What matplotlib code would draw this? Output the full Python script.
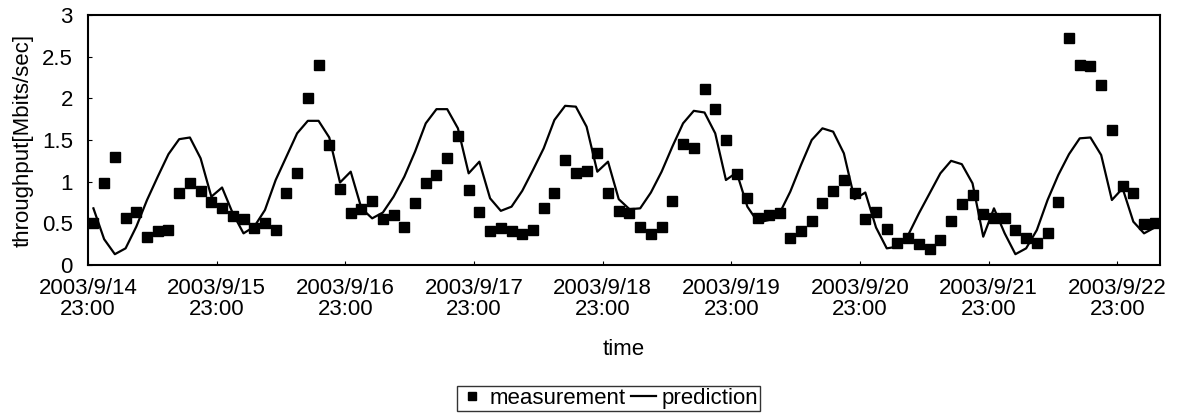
import matplotlib
matplotlib.use('Agg')
import matplotlib.pyplot as plt
import numpy as np

plt.rcParams['font.family'] = ['Liberation Sans', 'DejaVu Sans']

# throughput samples, one every 2 hours starting 2003/9/14 23:00
measurement = [
    0.50, 0.98, 1.30, 0.57, 0.64, 0.34, 0.41, 0.42, 0.86, 0.99, 0.89, 0.76,
    0.68, 0.59, 0.55, 0.45, 0.51, 0.42, 0.87, 1.10, 2.00, 2.40, 1.44, 0.91,
    0.63, 0.67, 0.77, 0.55, 0.60, 0.46, 0.74, 0.99, 1.08, 1.28, 1.55, 0.90,
    0.64, 0.41, 0.44, 0.41, 0.37, 0.42, 0.69, 0.87, 1.26, 1.11, 1.13, 1.35,
    0.87, 0.65, 0.62, 0.46, 0.37, 0.46, 0.77, 1.45, 1.40, 2.11, 1.87, 1.50,
    1.09, 0.80, 0.56, 0.60, 0.62, 0.33, 0.41, 0.53, 0.74, 0.89, 1.02, 0.87,
    0.55, 0.64, 0.43, 0.26, 0.32, 0.25, 0.19, 0.30, 0.53, 0.73, 0.84, 0.61,
    0.56, 0.57, 0.42, 0.32, 0.27, 0.38, 0.76, 2.72, 2.40, 2.39, 2.16, 1.62,
    0.95, 0.87, 0.49, 0.50,
]
prediction = [
    0.68, 0.31, 0.13, 0.20, 0.46, 0.78, 1.06, 1.33, 1.51, 1.53, 1.28, 0.82,
    0.93, 0.62, 0.38, 0.46, 0.66, 1.02, 1.30, 1.58, 1.73, 1.73, 1.53, 0.99,
    1.12, 0.68, 0.56, 0.63, 0.82, 1.06, 1.36, 1.70, 1.87, 1.87, 1.64, 1.10,
    1.24, 0.80, 0.65, 0.70, 0.89, 1.14, 1.40, 1.74, 1.91, 1.90, 1.66, 1.12,
    1.24, 0.79, 0.67, 0.68, 0.87, 1.12, 1.42, 1.70, 1.85, 1.83, 1.58, 1.02,
    1.11, 0.70, 0.51, 0.54, 0.62, 0.88, 1.20, 1.50, 1.64, 1.60, 1.34, 0.79,
    0.87, 0.45, 0.20, 0.22, 0.36, 0.62, 0.86, 1.10, 1.25, 1.21, 0.98, 0.34,
    0.68, 0.38, 0.13, 0.20, 0.42, 0.78, 1.08, 1.33, 1.52, 1.53, 1.32, 0.78,
    0.92, 0.52, 0.38, 0.45,
]
day_labels = ['2003/9/14\n23:00', '2003/9/15\n23:00', '2003/9/16\n23:00',
              '2003/9/17\n23:00', '2003/9/18\n23:00', '2003/9/19\n23:00',
              '2003/9/20\n23:00', '2003/9/21\n23:00', '2003/9/22\n23:00']

n = len(measurement)
x = np.arange(n)
fs = 16

fig = plt.figure(figsize=(11.82, 4.15), dpi=100)
ax = fig.add_axes([0.0745, 0.3614, 0.907, 0.6025])

ax.plot(x, measurement, linestyle='none', marker='s', markersize=7,
        color='black', label='measurement')
ax.plot(x, prediction, color='black', linewidth=1.6, label='prediction')

ax.set_xlim(-0.5, n - 0.5)
ax.set_ylim(0, 3)
ax.set_xticks(np.arange(len(day_labels)) * 12 - 0.5)
ax.set_xticklabels(day_labels, fontsize=fs, linespacing=1.0)
ax.set_yticks(np.arange(0, 3.01, 0.5))
ax.set_yticklabels(['%g' % v for v in np.arange(0, 3.01, 0.5)], fontsize=fs)
ax.tick_params(axis='x', direction='in', length=3, pad=9)
ax.tick_params(axis='y', direction='in', length=3, pad=11)
for s in ax.spines.values():
    s.set_linewidth(1.5)

ax.set_xlabel('time', fontsize=fs, labelpad=14)
ax.set_ylabel('throughput[Mbits/sec]', fontsize=fs, labelpad=6)

leg = fig.legend(loc='center', bbox_to_anchor=(0.515, 0.04), ncol=2,
                 fontsize=fs, frameon=True, fancybox=False, handlelength=1.1,
                 handletextpad=0.25, columnspacing=0.25, borderpad=0.1,
                 borderaxespad=0, markerscale=0.75)
leg.get_frame().set_edgecolor('black')
leg.get_frame().set_linewidth(1.0)

fig.savefig('out.png', dpi=100)
